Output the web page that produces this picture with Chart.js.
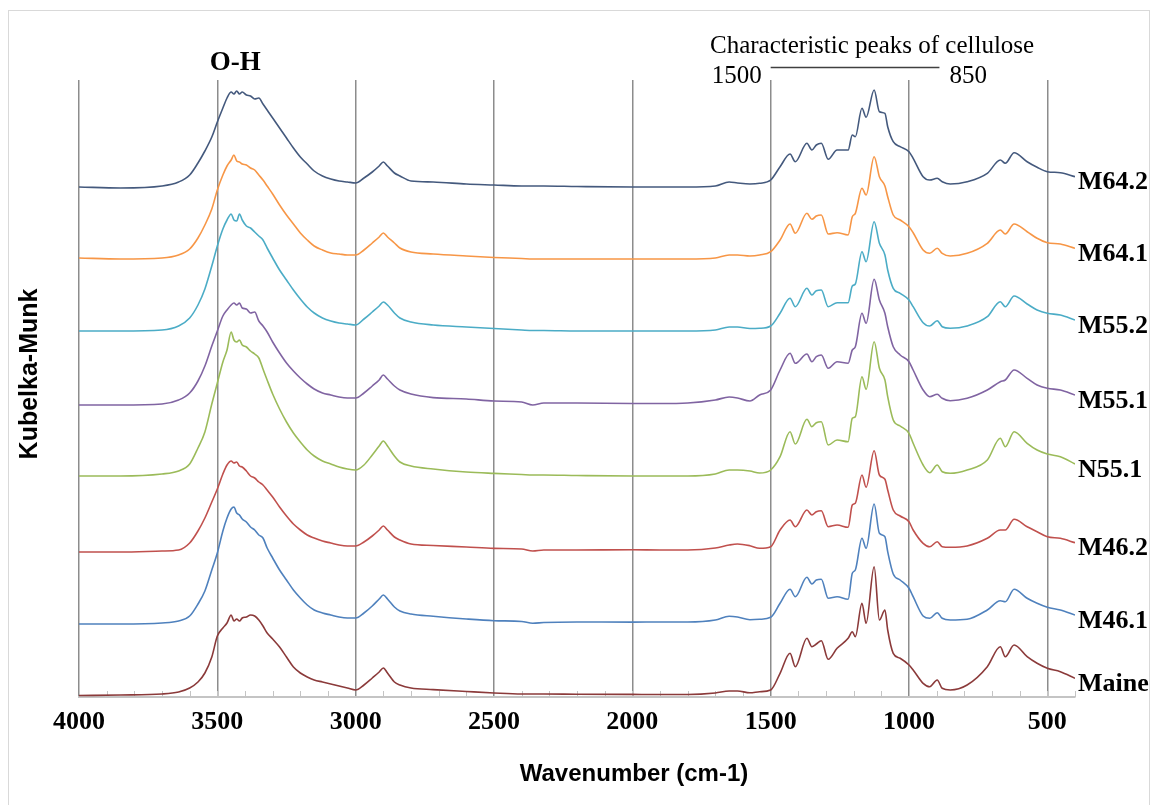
<!DOCTYPE html>
<html>
<head>
<meta charset="utf-8">
<script src="https://cdn.jsdelivr.net/npm/chart.js@4.4.1/dist/chart.umd.min.js"></script>
<style>
  html, body { margin: 0; padding: 0; background: #ffffff; }
  #wrap { width: 1154px; height: 805px; position: relative; }
</style>
</head>
<body>
<div id="wrap"><canvas id="c" width="1154" height="805"></canvas></div>
<script>
// ---- DATA (Kubelka-Munk, arbitrary stacked units) ----
const wavenumbers = [4000,3850,3700,3640,3600,3570,3545,3520,3500,3480,3465,3450,3440,3430,3420,3410,3395,3380,3365,3350,3335,3320,3300,3275,3250,3225,3200,3175,3150,3120,3090,3060,3030,3000,2970,2940,2915,2900,2885,2860,2840,2800,2720,2600,2500,2400,2360,2320,2200,2000,1900,1800,1700,1650,1620,1575,1540,
  1500,1466,1430,1411,1369,1351,1335,1317,1292,1260,1220,1205,1194,1170,1155,1126,1107,1087,1077,1057,1032,1000,985,949,925,898,880,851,790,717,670,652,620,573,537,500,453,400];

const seriesNames = ['M64.2','M64.1','M55.2','M55.1','N55.1','M46.2','M46.1','Maine'];

const m642 = [510,509,511,515,522,534,546,560,575,589,599,605,603,606,603,605,602,601,598,599,593,587,579,569,559,549,540,533,526,521,518,516,515,514,519,525,531,535,531,524,521,516,515,513,512,511,511,511,510.5,510,510,510,511,515,514,513,513.7,
  517,530.3,543,535.3,553.7,547,552,553.7,537.7,547,547,562,560.3,588.7,579.7,607,585.3,583.7,570.3,555.3,550.3,545.3,538.7,520.3,517,518.7,515.3,513,515.3,523.7,537,533.7,544.3,535.3,529.7,525.3,524.3,520.3];

const m641 = [439,438,439,442,448,459,472,488,507,522,531,537,542,536,535,533,532,529,527,522,517,511,503,492,482,473,464,457,451,447,444,443,442,442,447,454,460,464,460,454,449,445,443,441,439.5,438.5,438,438,438,438,438,438,439,442,442,441,442,
  445.3,457,473,463.7,483.7,477.7,481,482,463,464.3,462,480.3,483.7,508.7,502,540.3,520.3,511,500.3,482,477,470.3,464.3,447,443.7,448.7,443.7,441,443.7,453.7,467,463,473,465.3,458.7,454.3,453,448.7];

const m552 = [366,366,367,371,379,392,408,431,451,468,477,483,477,476,483,477,471,469,465,461,457,449,439,427,417,407,398,390,384,379,376,374,373,372,378,385,391,395,392,384,379,375,372,370,368.5,367,366.5,366.5,366,366,366,366,367,370,370,368.5,368.7,
  371,383.7,398.7,390.3,408.7,402,406.3,407,390.3,394.3,394.3,411,413,445.3,435.3,475.3,453.7,442,427,408.7,403.7,397,390.3,374.3,371,376.3,370.3,368.7,371,380.3,395.3,390.3,401,393,387,383.7,382,377];

const m551 = [292,292,293,297,304,316,331,351,366,381,387,392,394,392,394,389,388,384,385,376,371,365,355,344,334,326,319,313,308,304,302,300,299,299,304,311,317,322,318,311,307,303,299.4,298,296,295,292,294,294,293.5,293.5,294,297,300,299,296,302,
  307,327,343.7,333.7,343,335.3,340.3,342,328.7,335.3,333.7,347,350.3,383.7,373.7,417.7,397,383.7,370.3,350.3,342,335.3,327,307,300.3,302.7,298.7,296.3,298.7,307,315.3,317,327,318.7,312,308.7,307,302];

const n551 = [221,221,223,226,233,249,265,293,314,335,347,365,357,355,357,352,350,346,343,339,328,317,303,288,275,264,255,247,241,236,233,230,228,227,232,242,251,256,251,241,235,231,228,225,223.6,222.5,222,222,221.5,221,221,221,223,227,227,226,224,
  227,240.3,265.3,253,277.7,270.3,274.3,275.3,252,257,255.3,278.7,280.3,320.3,307.7,355.3,328.7,317,300.3,277,271,263.7,253.7,232,224.3,232,225.3,223.7,227,237,258.7,250.3,265.3,253.7,247,243,240.3,233];

const m462 = [145,145,146,147,154,166,179,195,208,223,232,236,234,235,231,230,226,221,219,215,212,207,200,190,181,173,167,162,159,156,154,152,151,151,155,161,167,171,167,160,157,153,151.5,150,148.6,148,146,147,147,147.2,147,147,149,152,153,151.3,148.7,
  150.3,167,177,170.3,187,182,185.3,186.3,170.3,172,169.7,192,193.7,222,209.7,246.3,222,217.7,207,187,181,175.3,167,153.7,150.3,155.3,150.3,149.7,151,158.7,167,167,177.7,170.3,165.3,160.3,158.7,154.3];

const m461 = [73,73,74,76,81,93,106,127,144,166,179,188,190,184,182,178,175,170,167,162,159,149,139,127,117,107,99,92,87,84,82,80,79,79,84,91,98,102,98,90,86,83,80.7,78,76.3,75.5,73.8,74.5,75,74.9,75,75,77,80.7,80,77.3,77.7,
  79.7,93.7,107.7,100.3,119.7,113,117,117.7,98.7,100.3,97.7,123.7,127,158.7,148.7,193,163.7,160.3,145.3,123,117,108.7,100.3,81,78.7,84.3,78.7,77,77.7,87,96.3,95.3,107.7,98.7,93.7,89.7,87,82];

const maine = [1.5,2,3,5,9,15,24,40,61,69,74,82,76,78,76,79,80,82,81,77,71,64,58,50,40,30,24,20,17,15,13,11,9,7,12,19,25,29,24,15,12,9,7.4,5.5,4,3,3,3,2.8,2.6,2.5,2.5,4,6,6,4.3,5.3,
  7,23.7,43.7,30.3,58.7,50.3,53,56.3,37.7,48.7,58.7,65.3,60.3,93.7,73.7,130.3,77,87,67,43.7,38.7,32,27,13.7,10.3,17,8.7,7,12,30.3,50.3,40.3,52,40.3,33.7,28.7,25.3,18.7];

const seriesValues = [m642, m641, m552, m551, n551, m462, m461, maine];
const tickLabels = ['4000','3500','3000','2500','2000','1500','1000','500'];
const xTitle = 'Wavenumber (cm-1)';
const yTitle = 'Kubelka-Munk';

// ---- STYLE ----
const colors = ['#44597d','#f79646','#4bacc6','#8064a2','#9bbb59','#c0504d','#4f81bd','#8b3a3a'];

const datasets = seriesNames.map((name, i) => ({
  label: name,
  data: wavenumbers.map((w, j) => ({ x: w, y: seriesValues[i][j] })),
  borderColor: colors[i],
  borderWidth: 1.6,
  pointRadius: 0,
  fill: false,
  cubicInterpolationMode: 'monotone'
}));

const serif = '"Liberation Serif", "Times New Roman", serif';
const sans = '"Liberation Sans", Arial, sans-serif';

const decorPlugin = {
  id: 'decor',
  beforeDraw(chart) {
    const ctx = chart.ctx;
    ctx.save();
    ctx.strokeStyle = '#d9d9d9';
    ctx.lineWidth = 1;
    ctx.strokeRect(8.5, 10.5, 1141, 800);
    ctx.restore();
  },
  beforeDatasetsDraw(chart) {
    const ctx = chart.ctx;
    const xs = chart.scales.x;
    const yb = chart.chartArea.bottom;
    ctx.save();
    ctx.strokeStyle = '#c4c4c4';
    ctx.lineWidth = 1;
    xs.ticks.forEach(t => {
      const px = Math.round(xs.getPixelForValue(t.value)) + 0.5;
      ctx.beginPath();
      ctx.moveTo(px, yb);
      ctx.lineTo(px, yb - 6);
      ctx.stroke();
    });
    ctx.restore();
  },
  afterDraw(chart) {
    const ctx = chart.ctx;
    const xs = chart.scales.x;
    ctx.save();
    ctx.fillStyle = '#000';
    // series labels at the end of each curve
    ctx.font = 'bold 26px ' + serif;
    ctx.textAlign = 'left';
    ctx.textBaseline = 'middle';
    chart.data.datasets.forEach((ds, i) => {
      const meta = chart.getDatasetMeta(i);
      const p = meta.data[meta.data.length - 1];
      ctx.fillText(ds.label, p.x + 3, p.y + 6);
    });
    // annotations
    ctx.textBaseline = 'alphabetic';
    ctx.textAlign = 'center';
    ctx.font = 'bold 27px ' + serif;
    ctx.fillText('O-H', xs.getPixelForValue(3435), 70);
    ctx.font = '25px ' + serif;
    ctx.textAlign = 'left';
    ctx.fillText('Characteristic peaks of cellulose', 710, 53);
    ctx.textAlign = 'right';
    ctx.fillText('1500', xs.getPixelForValue(1500) - 9, 83);
    ctx.textAlign = 'left';
    ctx.fillText('850', xs.getPixelForValue(890) + 10, 83);
    ctx.strokeStyle = '#404040';
    ctx.lineWidth = 1.5;
    ctx.beginPath();
    ctx.moveTo(xs.getPixelForValue(1500), 67.5);
    ctx.lineTo(xs.getPixelForValue(890), 67.5);
    ctx.stroke();
    // axis titles
    ctx.font = 'bold 24px ' + sans;
    ctx.textAlign = 'center';
    ctx.fillText(xTitle, 634, 781);
    ctx.translate(37, 374);
    ctx.rotate(-Math.PI / 2);
    ctx.font = 'bold 25px ' + sans;
    ctx.fillText(yTitle, 0, 0);
    ctx.restore();
  }
};

new Chart(document.getElementById('c'), {
  type: 'line',
  data: { datasets },
  options: {
    responsive: false,
    animation: false,
    devicePixelRatio: 1,
    layout: { padding: { top: 80, right: 79, left: 79, bottom: 0 } },
    plugins: { legend: { display: false }, tooltip: { enabled: false } },
    scales: {
      x: {
        type: 'linear',
        reverse: true,
        min: 400,
        max: 4000,
        afterFit(scale) { scale.height = 108; },
        grid: {
          drawTicks: false,
          lineWidth: 1.5,
          color: (c) => (c.tick && tickLabels.includes(String(c.tick.value))) ? '#8c8c8c' : 'rgba(0,0,0,0)'
        },
        border: { display: true, color: '#c4c4c4', width: 2 },
        ticks: {
          stepSize: 100,
          maxTicksLimit: 100,
          autoSkip: false,
          maxRotation: 0,
          padding: 10,
          color: '#000',
          font: { family: serif, size: 26, weight: 'bold' },
          callback: (v) => tickLabels.includes(String(v)) ? String(v) : ''
        }
      },
      y: {
        display: false,
        min: 0,
        max: 617
      }
    }
  },
  plugins: [decorPlugin]
});
</script>
</body>
</html>
